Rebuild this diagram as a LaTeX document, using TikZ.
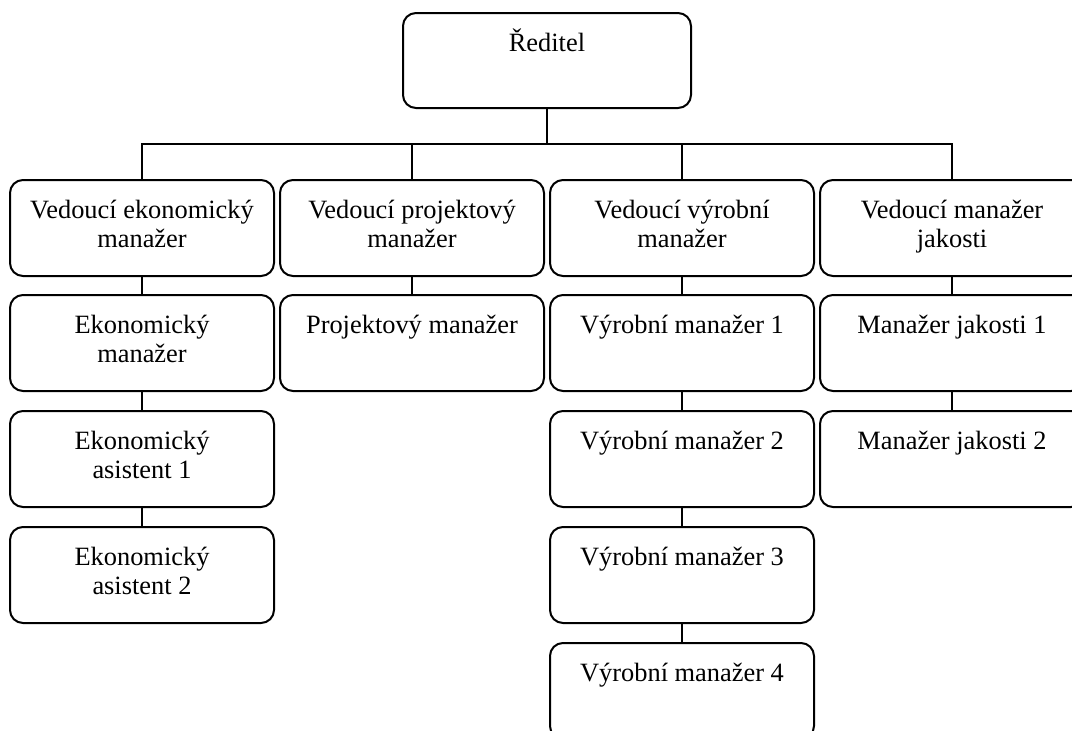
\documentclass[tikz,border=0pt]{standalone}
\usepackage{fontspec}
\setmainfont{Liberation Serif}
\newcommand{\bxt}[2][96pt]{\parbox[c][#1][t]{256pt}{\centering\rule{0pt}{38pt}#2}}
\begin{document}
\begin{tikzpicture}[x=1pt,y=-1pt,
  box/.style={draw, line width=2pt, rounded corners=13pt, minimum width=264pt,
    minimum height=96pt, inner sep=0pt, font=\fontsize{26.4}{29.5}\selectfont},
  conn/.style={line width=2pt}]
\useasboundingbox (0,0) rectangle (1072,731);
% top
\node[box, minimum width=288pt, minimum height=95pt] (dir) at (547,60.5) {\bxt[95pt]{Ředitel}};
% row 1
\node[box] (c1) at (142,228) {\bxt{Vedoucí ekonomický\\manažer}};
\node[box] (c2) at (412,228) {\bxt{Vedoucí projektový\\manažer}};
\node[box] (c3) at (682,228) {\bxt{Vedoucí výrobní\\manažer}};
\node[box] (c4) at (952,228) {\bxt{Vedoucí manažer\\jakosti}};
% column 1
\node[box] (e1) at (142,343) {\bxt{Ekonomický\\manažer}};
\node[box] (e2) at (142,459) {\bxt{Ekonomický\\asistent 1}};
\node[box] (e3) at (142,575) {\bxt{Ekonomický\\asistent 2}};
% column 2
\node[box] (p1) at (412,343) {\bxt{Projektový manažer}};
% column 3
\node[box] (v1) at (682,343) {\bxt{Výrobní manažer 1}};
\node[box] (v2) at (682,459) {\bxt{Výrobní manažer 2}};
\node[box] (v3) at (682,575) {\bxt{Výrobní manažer 3}};
\node[box] (v4) at (682,691) {\bxt{Výrobní manažer 4}};
% column 4
\node[box] (q1) at (952,343) {\bxt{Manažer jakosti 1}};
\node[box] (q2) at (952,459) {\bxt{Manažer jakosti 2}};
% connectors
\coordinate (bus) at (547,144);
\draw[conn] (dir.south) -- (bus);
\draw[conn] (c1.north) |- (bus) -| (c4.north);
\draw[conn] (c2.north) |- (bus);
\draw[conn] (c3.north) |- (bus);
\draw[conn] (c1.south) -- (e1.north);
\draw[conn] (e1.south) -- (e2.north);
\draw[conn] (e2.south) -- (e3.north);
\draw[conn] (c2.south) -- (p1.north);
\draw[conn] (c3.south) -- (v1.north);
\draw[conn] (v1.south) -- (v2.north);
\draw[conn] (v2.south) -- (v3.north);
\draw[conn] (v3.south) -- (v4.north);
\draw[conn] (c4.south) -- (q1.north);
\draw[conn] (q1.south) -- (q2.north);
\end{tikzpicture}
\end{document}
